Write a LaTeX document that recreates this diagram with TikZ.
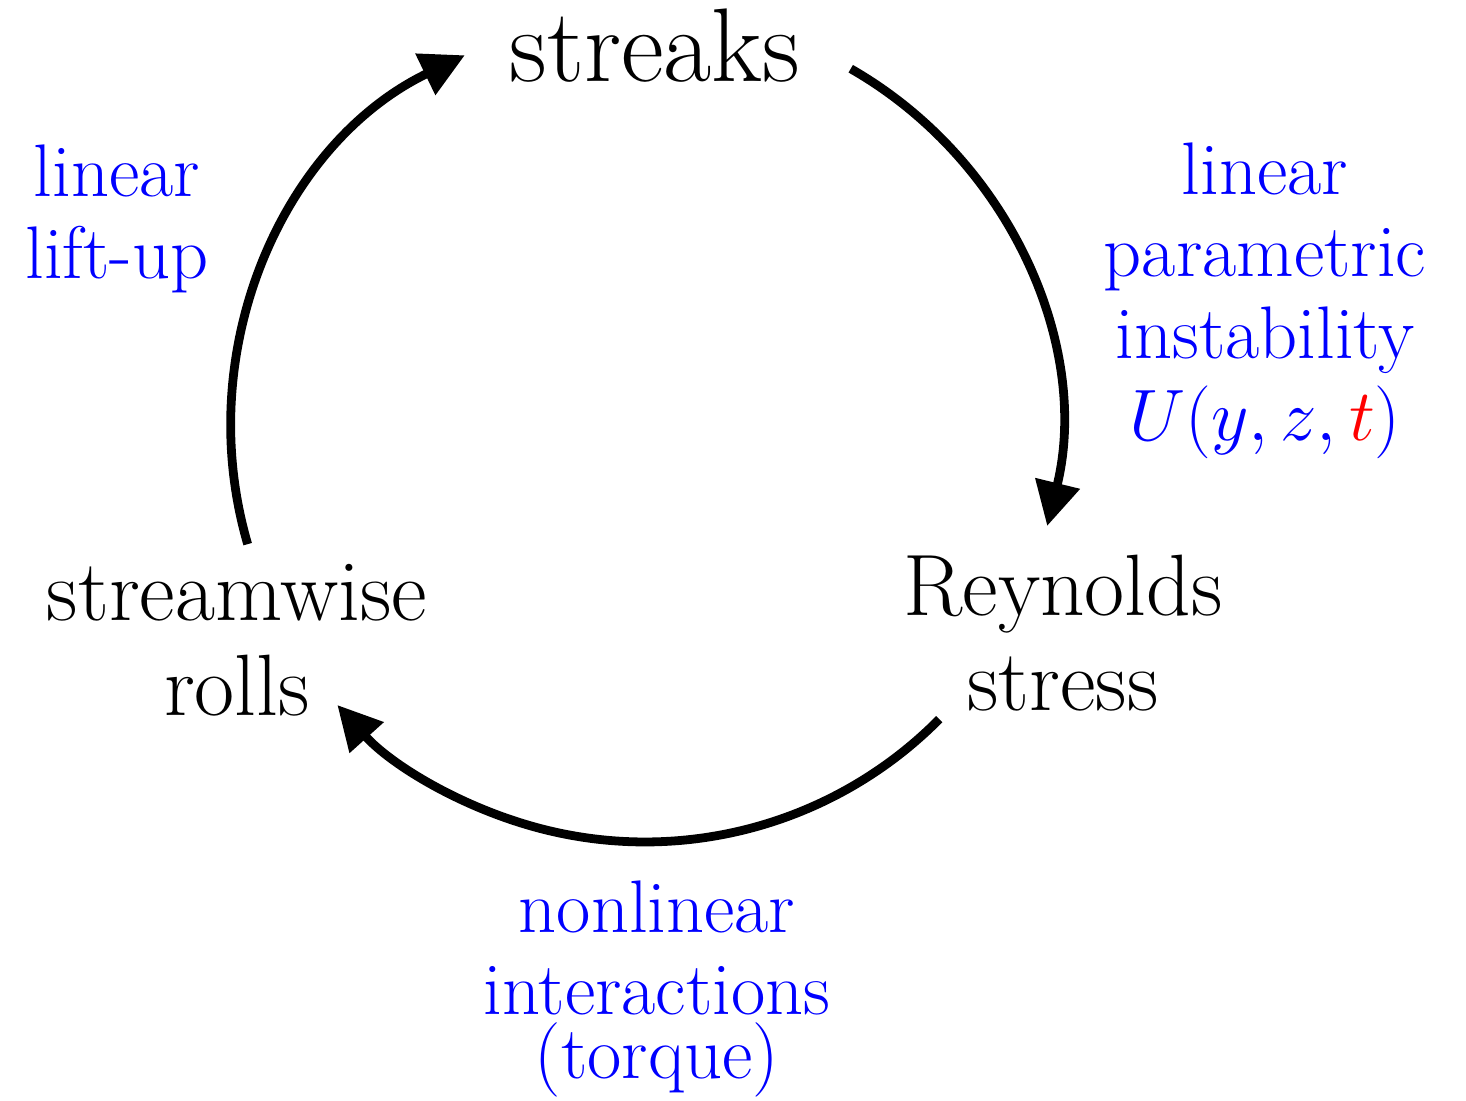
\documentclass[tikz,border=0pt]{standalone}
\usepackage{amsmath}
\usepackage[dvipsnames]{xcolor}
\usepackage{tikz}
\usetikzlibrary{arrows.meta}

\tikzset{
    flow/.style={line width=2.5pt, -{Triangle[length=12.5pt,width=12.5pt]}},
    state/.style={align=center, font=\fontsize{24.8}{27}\selectfont},
    mech/.style={align=center, text=blue, font=\fontsize{21.2}{23.3}\selectfont},
}

\begin{document}
\begin{tikzpicture}
            \useasboundingbox (0,0) rectangle (14.66,11.01);
            \coordinate (c) at (6.45,6.73);
            \def\R{4.14}

            \node [state, font=\fontsize{29.8}{32}\selectfont] (streaks) at (6.55,10.555) {streaks};
            \node [state] (reynolds) at (10.63,4.675) {Reynolds\\stress};
            \node [state] (rolls) at (2.37,4.605) {streamwise\\rolls};

            \node [mech] (liftup) at (1.17,8.82) {linear\\lift-up};
            \node [mech] (param) at (12.65,8.0) {linear\\parametric\\instability\\$U(y,z,{\color{red}t})$};
            \node [mech] (torque) at (6.57,1.12) {nonlinear\\interactions\\[-5pt](torque)};

            \path (c) ++(196.3:\R) coordinate (rolls-out);
            \path (c) ++(60.2:\R) coordinate (streaks-out);
            \path (c) ++(-44.7:\R) coordinate (reynolds-out);

            \draw [flow] (rolls-out) arc [start angle=196.3, end angle=115.8, radius=\R];
            \draw [flow] (streaks-out) arc [start angle=60.2, end angle=-13.7, radius=\R];
            \draw [flow] (reynolds-out) arc [start angle=-44.7, end angle=-138, radius=\R];
        \end{tikzpicture}
\end{document}
